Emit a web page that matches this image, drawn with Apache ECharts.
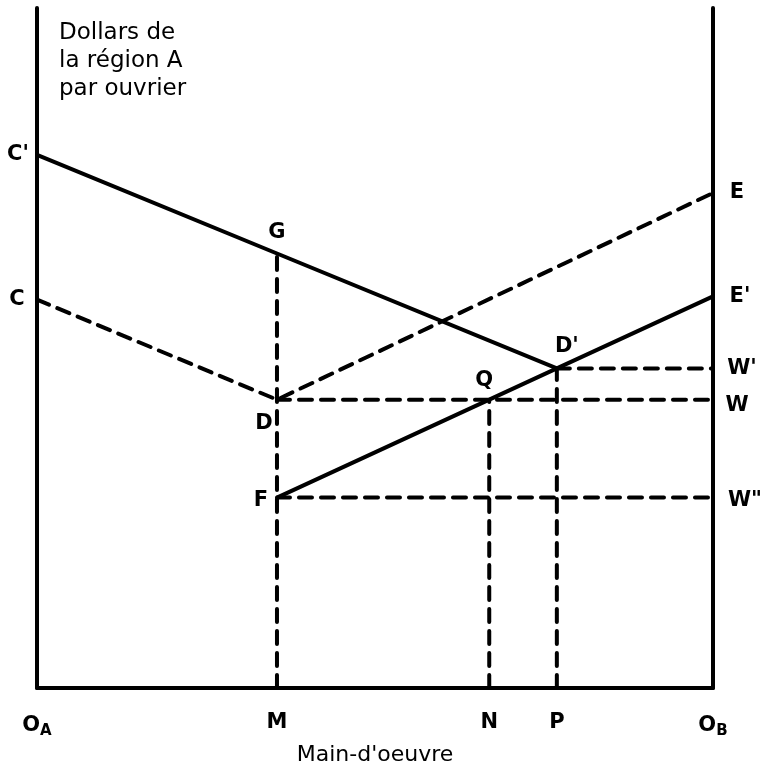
<!DOCTYPE html>
<html>
<head>
<meta charset="utf-8">
<script src="https://cdn.jsdelivr.net/npm/echarts@6/dist/echarts.min.js"></script>
<style>
  html, body { margin: 0; padding: 0; background: #fff; }
  #chart { width: 762px; height: 770px; }
</style>
</head>
<body>
<div id="chart"></div>
<script>
// x: main-d'oeuvre (O_A = 0, O_B = 100), y: dollars par ouvrier (0 - 100)
const xTickValues = [0, 35.5, 66.9, 76.9, 100];
const xTickNames = ['OA', 'M', 'N', 'P', 'OB'];

// courbes
const solidCG = [[0, 78.4], [35.5, 63.9], [76.9, 47.0]];          // C' - G - D'
const solidFE = [[35.5, 28.0], [66.9, 42.4], [76.9, 47.0], [100, 57.6]]; // F - Q - D' - E'
const dashedCDE = [[0, 57.1], [35.5, 42.4], [100, 72.8]];         // C - D - E
const dashVertM = [[35.5, 0], [35.5, 63.9]];
const dashVertN = [[66.9, 0], [66.9, 42.4]];
const dashVertP = [[76.9, 0], [76.9, 47.0]];
const dashHorW1 = [[76.9, 47.0], [100, 47.0]];  // W'
const dashHorW = [[35.5, 42.4], [100, 42.4]];   // W
const dashHorW2 = [[35.5, 28.0], [100, 28.0]];  // W''

// points nommés
const pointNames = ["C'", 'C', 'G', 'D', 'F', 'Q', "D'", 'E', "E'", "W'", 'W', 'W"'];
const pointValues = [
  [0, 78.4], [0, 57.1], [35.5, 63.9], [35.5, 42.4], [35.5, 28.0], [66.9, 42.4],
  [76.9, 47.0], [100, 72.8], [100, 57.6], [100, 47.0], [100, 42.4], [100, 28.0]
];

// décalage des étiquettes (px)
const labelOffset = {
  "C'": [-19, 0], 'C': [-20, 0], 'G': [0, -21], 'D': [-13, 24], 'F': [-16, 3],
  'Q': [-5, -19], "D'": [10, -22], 'E': [24, 0], "E'": [27, 0], "W'": [29, 0],
  'W': [24, 6], 'W"': [32, 3]
};

const FONT = 'DejaVu Sans';
const chart = echarts.init(document.getElementById('chart'));

function solid(data) {
  return {
    type: 'line', data: data, symbol: 'none', silent: true,
    lineStyle: { color: '#000', width: 4, type: 'solid' }
  };
}
function dashed(data) {
  return {
    type: 'line', data: data, symbol: 'none', silent: true,
    lineStyle: { color: '#000', width: 4, type: [13, 9], cap: 'round' }
  };
}

const axisBase = {
  type: 'value', min: 0, max: 100,
  axisLine: { show: true, lineStyle: { color: '#000', width: 4 } },
  axisTick: { show: false },
  splitLine: { show: false },
  axisLabel: { show: false }
};

const labelStyle = {
  color: '#000',
  fontFamily: FONT,
  fontSize: 21,
  fontWeight: 'bold'
};

const option = {
  backgroundColor: '#fff',
  animation: false,
  title: {
    text: 'Dollars de\nla région A\npar ouvrier',
    left: 54, top: 14,
    textStyle: { fontFamily: FONT, fontSize: 23, fontWeight: 'normal', color: '#000', lineHeight: 28 }
  },
  grid: { left: 37, right: 49, top: 8, bottom: 82, outerBoundsMode: 'none', containLabel: false },
  xAxis: Object.assign({}, axisBase, {
    name: "Main-d'oeuvre",
    nameLocation: 'middle',
    nameGap: 54,
    nameTextStyle: { fontFamily: FONT, fontSize: 22, color: '#000' },
    axisLabel: {
      show: true,
      customValues: xTickValues,
      margin: 24,
      color: '#000',
      fontFamily: FONT,
      fontSize: 21,
      fontWeight: 'bold',
      formatter: function (v) {
        const i = xTickValues.indexOf(v);
        const n = i >= 0 ? xTickNames[i] : '';
        if (n === 'OA' || n === 'OB') return '{o|O}{s|' + n[1] + '}';
        return n;
      },
      rich: {
        o: { fontFamily: FONT, fontSize: 21, fontWeight: 'bold', color: '#000' },
        s: { fontFamily: FONT, fontSize: 15, fontWeight: 'bold', color: '#000', padding: [12, 0, 0, 0] }
      }
    }
  }),
  yAxis: [
    Object.assign({}, axisBase, { position: 'left' }),
    Object.assign({}, axisBase, { position: 'right' })
  ],
  series: [
    solid(solidCG),
    solid(solidFE),
    dashed(dashedCDE),
    dashed(dashVertM),
    dashed(dashVertN),
    dashed(dashVertP),
    dashed(dashHorW1),
    dashed(dashHorW),
    dashed(dashHorW2),
    {
      type: 'scatter',
      symbolSize: 0,
      silent: true,
      z: 5,
      itemStyle: { opacity: 1 },
      data: pointNames.map(function (n, i) {
        return {
          name: n,
          value: pointValues[i],
          label: Object.assign({ position: labelOffset[n] }, labelStyle)
        };
      }),
      label: Object.assign({
        show: true,
        formatter: '{b}',
        align: 'center',
        verticalAlign: 'middle'
      }, labelStyle)
    }
  ]
};

chart.setOption(option);
</script>
</body>
</html>
